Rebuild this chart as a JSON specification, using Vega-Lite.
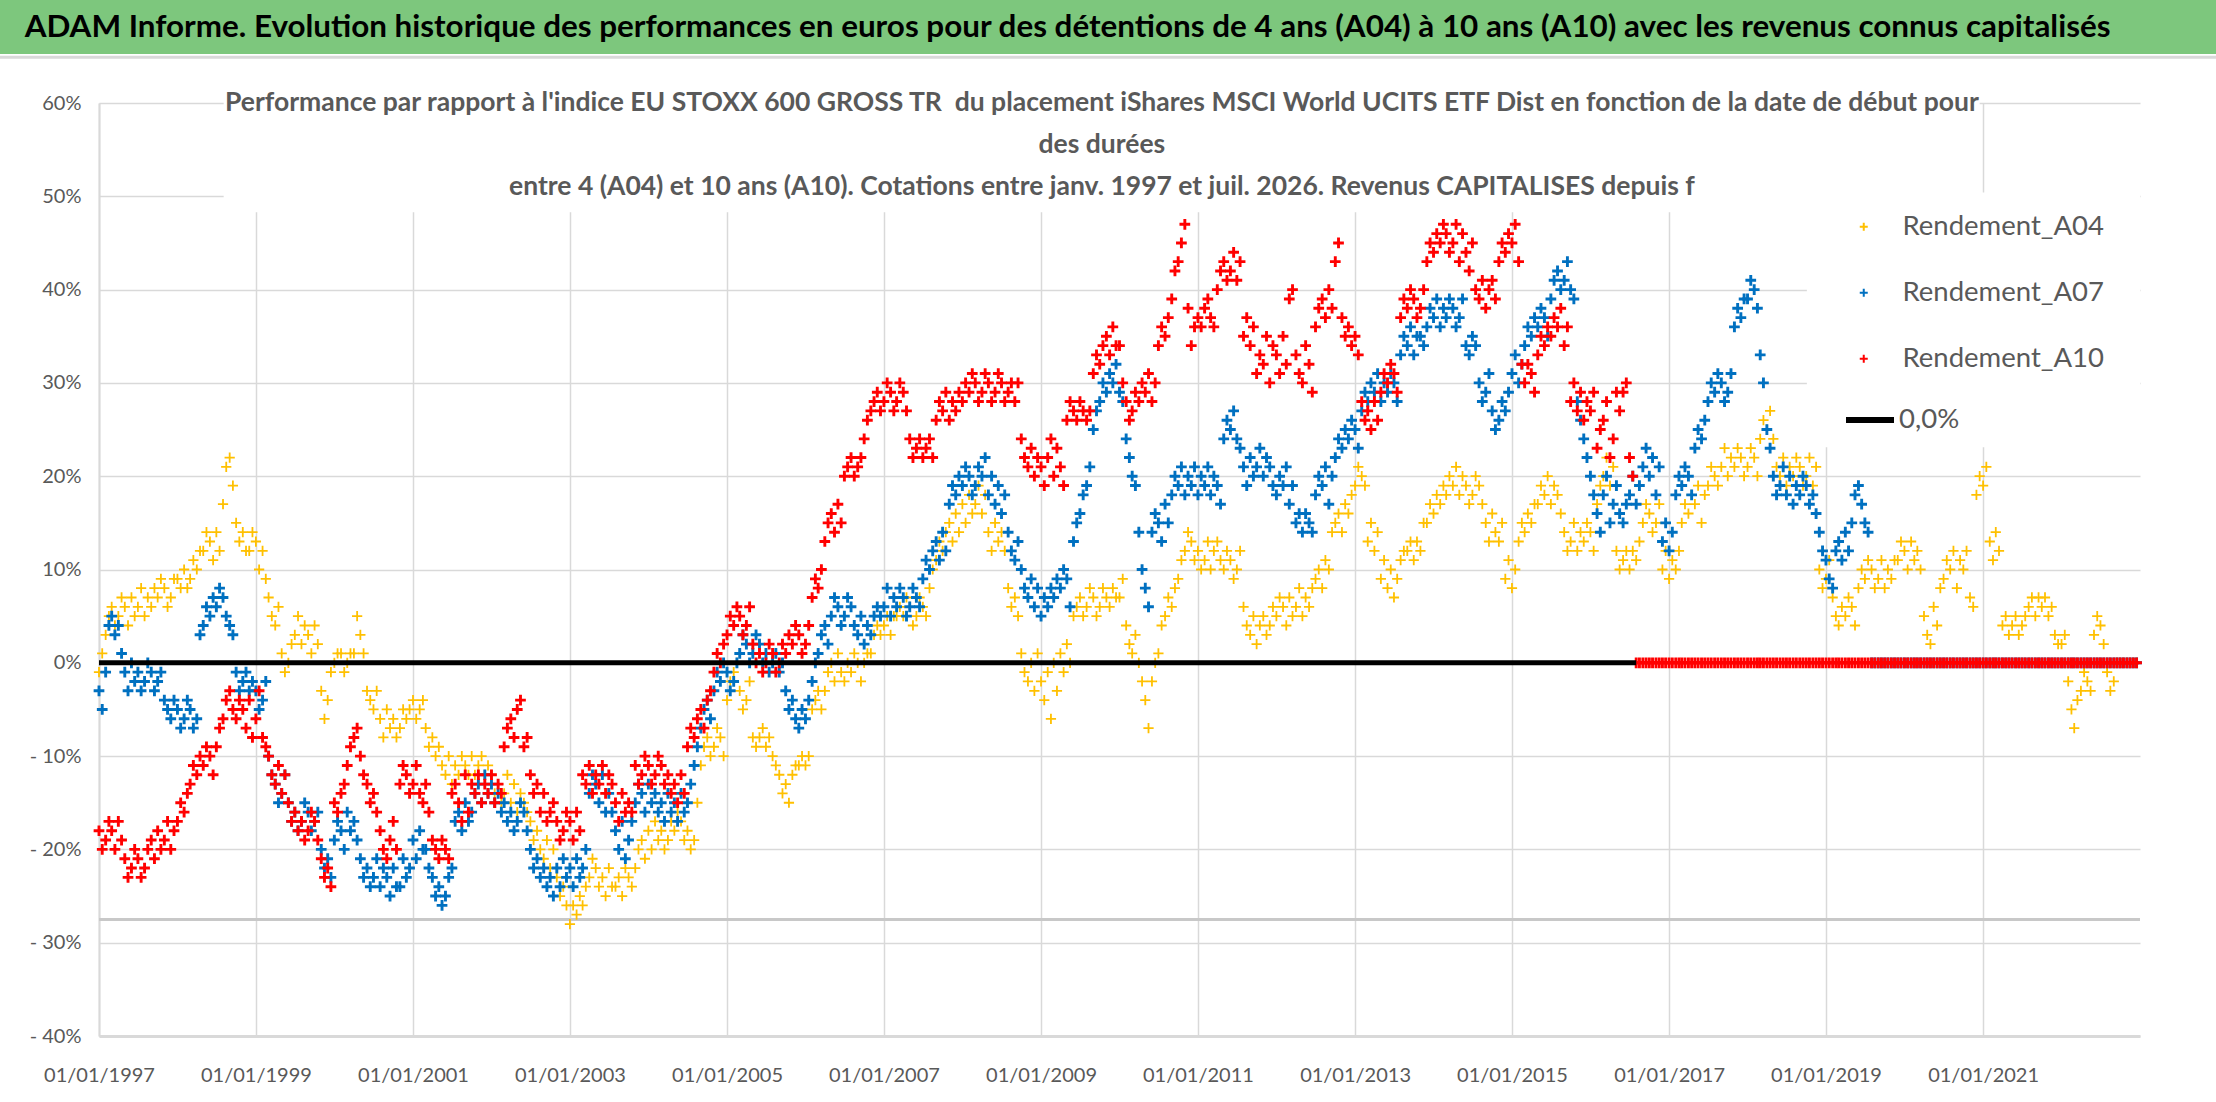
{
  "$schema": "https://vega.github.io/schema/vega-lite/v6.json",
  "width": 2041,
  "height": 933,
  "autosize": {"type": "none"},
  "padding": {"left": 99, "top": 103, "right": 76, "bottom": 66},
  "background": "white",
  "config": {"view": {"stroke": null}, "font": "Lato"},
  "data": {
    "values": [
      {"d":"1997-01-01","A04":-1,"A07":-3,"A10":-18},
      {"d":"1997-01-16","A04":1,"A07":-5,"A10":-20},
      {"d":"1997-02-01","A04":3,"A07":-1,"A10":-19},
      {"d":"1997-02-16","A04":5,"A07":4,"A10":-17},
      {"d":"1997-03-01","A04":6,"A07":5,"A10":-18},
      {"d":"1997-03-16","A04":4,"A07":3,"A10":-20},
      {"d":"1997-04-01","A04":5,"A07":4,"A10":-17},
      {"d":"1997-04-16","A04":7,"A07":1,"A10":-19},
      {"d":"1997-05-01","A04":6,"A07":-1,"A10":-21},
      {"d":"1997-05-16","A04":4,"A07":-3,"A10":-23},
      {"d":"1997-06-01","A04":7,"A07":0,"A10":-22},
      {"d":"1997-06-16","A04":5,"A07":-2,"A10":-20},
      {"d":"1997-07-01","A04":6,"A07":-1,"A10":-21},
      {"d":"1997-07-16","A04":8,"A07":-3,"A10":-23},
      {"d":"1997-08-01","A04":5,"A07":-2,"A10":-22},
      {"d":"1997-08-16","A04":7,"A07":0,"A10":-20},
      {"d":"1997-09-01","A04":6,"A07":-1,"A10":-19},
      {"d":"1997-09-16","A04":8,"A07":-3,"A10":-21},
      {"d":"1997-10-01","A04":7,"A07":-2,"A10":-18},
      {"d":"1997-10-16","A04":9,"A07":-1,"A10":-20},
      {"d":"1997-11-01","A04":8,"A07":-4,"A10":-19},
      {"d":"1997-11-16","A04":6,"A07":-5,"A10":-17},
      {"d":"1997-12-01","A04":7,"A07":-6,"A10":-20},
      {"d":"1997-12-16","A04":9,"A07":-4,"A10":-18},
      {"d":"1998-01-01","A04":9,"A07":-5,"A10":-17},
      {"d":"1998-01-16","A04":8,"A07":-7,"A10":-15},
      {"d":"1998-02-01","A04":10,"A07":-6,"A10":-16},
      {"d":"1998-02-16","A04":8,"A07":-4,"A10":-14},
      {"d":"1998-03-01","A04":9,"A07":-5,"A10":-13},
      {"d":"1998-03-16","A04":11,"A07":-7,"A10":-11},
      {"d":"1998-04-01","A04":10,"A07":-6,"A10":-12},
      {"d":"1998-04-16","A04":12,"A07":3,"A10":-10},
      {"d":"1998-05-01","A04":12,"A07":4,"A10":-11},
      {"d":"1998-05-16","A04":14,"A07":6,"A10":-9},
      {"d":"1998-06-01","A04":13,"A07":5,"A10":-10},
      {"d":"1998-06-16","A04":11,"A07":7,"A10":-12},
      {"d":"1998-07-01","A04":14,"A07":6,"A10":-9},
      {"d":"1998-07-16","A04":12,"A07":8,"A10":-7},
      {"d":"1998-08-01","A04":17,"A07":7,"A10":-6},
      {"d":"1998-08-16","A04":21,"A07":5,"A10":-4},
      {"d":"1998-09-01","A04":22,"A07":4,"A10":-3},
      {"d":"1998-09-16","A04":19,"A07":3,"A10":-5},
      {"d":"1998-10-01","A04":15,"A07":-1,"A10":-6},
      {"d":"1998-10-16","A04":13,"A07":-3,"A10":-4},
      {"d":"1998-11-01","A04":14,"A07":-2,"A10":-5},
      {"d":"1998-11-16","A04":12,"A07":-1,"A10":-7},
      {"d":"1998-12-01","A04":12,"A07":-3,"A10":-4},
      {"d":"1998-12-16","A04":14,"A07":-2,"A10":-8},
      {"d":"1999-01-01","A04":13,"A07":-3,"A10":-6},
      {"d":"1999-01-16","A04":10,"A07":-5,"A10":-3},
      {"d":"1999-02-01","A04":12,"A07":-4,"A10":-8},
      {"d":"1999-02-16","A04":9,"A07":-2,"A10":-9},
      {"d":"1999-03-01","A04":7,"A07":-10,"A10":-10},
      {"d":"1999-03-16","A04":5,"A07":-12,"A10":-12},
      {"d":"1999-04-01","A04":4,"A07":-13,"A10":-13},
      {"d":"1999-04-16","A04":6,"A07":-15,"A10":-11},
      {"d":"1999-05-01","A04":1,"A07":-14,"A10":-14},
      {"d":"1999-05-16","A04":-1,"A07":-12,"A10":-12},
      {"d":"1999-06-01","A04":0,"A07":-15,"A10":-15},
      {"d":"1999-06-16","A04":2,"A07":-17,"A10":-17},
      {"d":"1999-07-01","A04":3,"A07":-16,"A10":-16},
      {"d":"1999-07-16","A04":5,"A07":-18,"A10":-18},
      {"d":"1999-08-01","A04":2,"A07":-17,"A10":-17},
      {"d":"1999-08-16","A04":4,"A07":-15,"A10":-19},
      {"d":"1999-09-01","A04":3,"A07":-16,"A10":-18},
      {"d":"1999-09-16","A04":1,"A07":-18,"A10":-16},
      {"d":"1999-10-01","A04":4,"A07":-17,"A10":-17},
      {"d":"1999-10-16","A04":2,"A07":-16,"A10":-19},
      {"d":"1999-11-01","A04":-3,"A07":-20,"A10":-21},
      {"d":"1999-11-16","A04":-6,"A07":-22,"A10":-23},
      {"d":"1999-12-01","A04":-4,"A07":-21,"A10":-22},
      {"d":"1999-12-16","A04":-1,"A07":-23,"A10":-24},
      {"d":"2000-01-01","A04":0,"A07":-19,"A10":-15},
      {"d":"2000-01-16","A04":1,"A07":-17,"A10":-16},
      {"d":"2000-02-01","A04":1,"A07":-18,"A10":-14},
      {"d":"2000-02-16","A04":-1,"A07":-20,"A10":-13},
      {"d":"2000-03-01","A04":0,"A07":-16,"A10":-11},
      {"d":"2000-03-16","A04":1,"A07":-18,"A10":-9},
      {"d":"2000-04-01","A04":1,"A07":-17,"A10":-8},
      {"d":"2000-04-16","A04":5,"A07":-19,"A10":-7},
      {"d":"2000-05-01","A04":3,"A07":-21,"A10":-10},
      {"d":"2000-05-16","A04":1,"A07":-23,"A10":-12},
      {"d":"2000-06-01","A04":-3,"A07":-22,"A10":-13},
      {"d":"2000-06-16","A04":-4,"A07":-24,"A10":-15},
      {"d":"2000-07-01","A04":-5,"A07":-23,"A10":-14},
      {"d":"2000-07-16","A04":-3,"A07":-21,"A10":-16},
      {"d":"2000-08-01","A04":-6,"A07":-24,"A10":-18},
      {"d":"2000-08-16","A04":-8,"A07":-22,"A10":-20},
      {"d":"2000-09-01","A04":-5,"A07":-23,"A10":-21},
      {"d":"2000-09-16","A04":-7,"A07":-25,"A10":-19},
      {"d":"2000-10-01","A04":-6,"A07":-22,"A10":-17},
      {"d":"2000-10-16","A04":-8,"A07":-24,"A10":-20},
      {"d":"2000-11-01","A04":-7,"A07":-24,"A10":-13},
      {"d":"2000-11-16","A04":-5,"A07":-21,"A10":-11},
      {"d":"2000-12-01","A04":-6,"A07":-23,"A10":-12},
      {"d":"2000-12-16","A04":-5,"A07":-22,"A10":-14},
      {"d":"2001-01-01","A04":-4,"A07":-19,"A10":-13},
      {"d":"2001-01-16","A04":-6,"A07":-21,"A10":-11},
      {"d":"2001-02-01","A04":-5,"A07":-18,"A10":-14},
      {"d":"2001-02-16","A04":-4,"A07":-20,"A10":-15},
      {"d":"2001-03-01","A04":-7,"A07":-20,"A10":-13},
      {"d":"2001-03-16","A04":-9,"A07":-22,"A10":-16},
      {"d":"2001-04-01","A04":-8,"A07":-23,"A10":-19},
      {"d":"2001-04-16","A04":-10,"A07":-25,"A10":-20},
      {"d":"2001-05-01","A04":-9,"A07":-24,"A10":-21},
      {"d":"2001-05-16","A04":-11,"A07":-26,"A10":-19},
      {"d":"2001-06-01","A04":-12,"A07":-25,"A10":-20},
      {"d":"2001-06-16","A04":-10,"A07":-23,"A10":-21},
      {"d":"2001-07-01","A04":-13,"A07":-22,"A10":-14},
      {"d":"2001-07-16","A04":-11,"A07":-17,"A10":-13},
      {"d":"2001-08-01","A04":-12,"A07":-16,"A10":-15},
      {"d":"2001-08-16","A04":-10,"A07":-18,"A10":-17},
      {"d":"2001-09-01","A04":-11,"A07":-15,"A10":-12},
      {"d":"2001-09-16","A04":-12,"A07":-17,"A10":-16},
      {"d":"2001-10-01","A04":-10,"A07":-16,"A10":-13},
      {"d":"2001-10-16","A04":-12,"A07":-14,"A10":-14},
      {"d":"2001-11-01","A04":-11,"A07":-13,"A10":-12},
      {"d":"2001-11-16","A04":-10,"A07":-15,"A10":-15},
      {"d":"2001-12-01","A04":-12,"A07":-12,"A10":-13},
      {"d":"2001-12-16","A04":-11,"A07":-14,"A10":-14},
      {"d":"2002-01-01","A04":-12,"A07":-13,"A10":-12},
      {"d":"2002-01-16","A04":-14,"A07":-15,"A10":-15},
      {"d":"2002-02-01","A04":-13,"A07":-14,"A10":-13},
      {"d":"2002-02-16","A04":-15,"A07":-16,"A10":-14},
      {"d":"2002-03-01","A04":-14,"A07":-15,"A10":-9},
      {"d":"2002-03-16","A04":-12,"A07":-17,"A10":-7},
      {"d":"2002-04-01","A04":-15,"A07":-16,"A10":-6},
      {"d":"2002-04-16","A04":-13,"A07":-18,"A10":-8},
      {"d":"2002-05-01","A04":-16,"A07":-17,"A10":-5},
      {"d":"2002-05-16","A04":-14,"A07":-15,"A10":-4},
      {"d":"2002-06-01","A04":-15,"A07":-16,"A10":-9},
      {"d":"2002-06-16","A04":-16,"A07":-18,"A10":-8},
      {"d":"2002-07-01","A04":-17,"A07":-20,"A10":-12},
      {"d":"2002-07-16","A04":-19,"A07":-22,"A10":-14},
      {"d":"2002-08-01","A04":-18,"A07":-21,"A10":-13},
      {"d":"2002-08-16","A04":-20,"A07":-23,"A10":-16},
      {"d":"2002-09-01","A04":-21,"A07":-22,"A10":-14},
      {"d":"2002-09-16","A04":-19,"A07":-24,"A10":-17},
      {"d":"2002-10-01","A04":-22,"A07":-23,"A10":-16},
      {"d":"2002-10-16","A04":-20,"A07":-25,"A10":-15},
      {"d":"2002-11-01","A04":-23,"A07":-22,"A10":-17},
      {"d":"2002-11-16","A04":-25,"A07":-24,"A10":-19},
      {"d":"2002-12-01","A04":-24,"A07":-21,"A10":-18},
      {"d":"2002-12-16","A04":-26,"A07":-23,"A10":-16},
      {"d":"2003-01-01","A04":-28,"A07":-22,"A10":-17},
      {"d":"2003-01-16","A04":-26,"A07":-24,"A10":-19},
      {"d":"2003-02-01","A04":-27,"A07":-21,"A10":-16},
      {"d":"2003-02-16","A04":-25,"A07":-23,"A10":-18},
      {"d":"2003-03-01","A04":-26,"A07":-22,"A10":-12},
      {"d":"2003-03-16","A04":-24,"A07":-20,"A10":-13},
      {"d":"2003-04-01","A04":-23,"A07":-14,"A10":-11},
      {"d":"2003-04-16","A04":-21,"A07":-12,"A10":-14},
      {"d":"2003-05-01","A04":-22,"A07":-13,"A10":-12},
      {"d":"2003-05-16","A04":-24,"A07":-15,"A10":-13},
      {"d":"2003-06-01","A04":-23,"A07":-12,"A10":-11},
      {"d":"2003-06-16","A04":-25,"A07":-16,"A10":-14},
      {"d":"2003-07-01","A04":-22,"A07":-14,"A10":-12},
      {"d":"2003-07-16","A04":-24,"A07":-16,"A10":-13},
      {"d":"2003-08-01","A04":-24,"A07":-18,"A10":-15},
      {"d":"2003-08-16","A04":-23,"A07":-20,"A10":-17},
      {"d":"2003-09-01","A04":-25,"A07":-17,"A10":-14},
      {"d":"2003-09-16","A04":-22,"A07":-21,"A10":-16},
      {"d":"2003-10-01","A04":-23,"A07":-19,"A10":-15},
      {"d":"2003-10-16","A04":-24,"A07":-17,"A10":-16},
      {"d":"2003-11-01","A04":-22,"A07":-15,"A10":-11},
      {"d":"2003-11-16","A04":-20,"A07":-13,"A10":-13},
      {"d":"2003-12-01","A04":-19,"A07":-14,"A10":-12},
      {"d":"2003-12-16","A04":-21,"A07":-16,"A10":-10},
      {"d":"2004-01-01","A04":-18,"A07":-13,"A10":-11},
      {"d":"2004-01-16","A04":-20,"A07":-15,"A10":-13},
      {"d":"2004-02-01","A04":-17,"A07":-14,"A10":-12},
      {"d":"2004-02-16","A04":-19,"A07":-16,"A10":-10},
      {"d":"2004-03-01","A04":-18,"A07":-15,"A10":-11},
      {"d":"2004-03-16","A04":-20,"A07":-17,"A10":-13},
      {"d":"2004-04-01","A04":-19,"A07":-14,"A10":-12},
      {"d":"2004-04-16","A04":-17,"A07":-16,"A10":-14},
      {"d":"2004-05-01","A04":-18,"A07":-15,"A10":-13},
      {"d":"2004-05-16","A04":-16,"A07":-17,"A10":-15},
      {"d":"2004-06-01","A04":-17,"A07":-14,"A10":-12},
      {"d":"2004-06-16","A04":-19,"A07":-16,"A10":-14},
      {"d":"2004-07-01","A04":-18,"A07":-15,"A10":-9},
      {"d":"2004-07-16","A04":-20,"A07":-13,"A10":-7},
      {"d":"2004-08-01","A04":-19,"A07":-11,"A10":-8},
      {"d":"2004-08-16","A04":-15,"A07":-9,"A10":-6},
      {"d":"2004-09-01","A04":-11,"A07":-7,"A10":-5},
      {"d":"2004-09-16","A04":-9,"A07":-5,"A10":-7},
      {"d":"2004-10-01","A04":-8,"A07":-4,"A10":-4},
      {"d":"2004-10-16","A04":-10,"A07":-6,"A10":-3},
      {"d":"2004-11-01","A04":-9,"A07":-3,"A10":-1},
      {"d":"2004-11-16","A04":-7,"A07":-1,"A10":1},
      {"d":"2004-12-01","A04":-8,"A07":-2,"A10":0},
      {"d":"2004-12-16","A04":-10,"A07":0,"A10":2},
      {"d":"2005-01-01","A04":-4,"A07":-1,"A10":3},
      {"d":"2005-01-16","A04":-2,"A07":-3,"A10":5},
      {"d":"2005-02-01","A04":-1,"A07":-2,"A10":4},
      {"d":"2005-02-16","A04":0,"A07":0,"A10":6},
      {"d":"2005-03-01","A04":-3,"A07":1,"A10":5},
      {"d":"2005-03-16","A04":-5,"A07":3,"A10":3},
      {"d":"2005-04-01","A04":-4,"A07":2,"A10":4},
      {"d":"2005-04-16","A04":-2,"A07":0,"A10":6},
      {"d":"2005-05-01","A04":-8,"A07":1,"A10":2},
      {"d":"2005-05-16","A04":-9,"A07":3,"A10":0},
      {"d":"2005-06-01","A04":-8,"A07":2,"A10":1},
      {"d":"2005-06-16","A04":-7,"A07":0,"A10":-1},
      {"d":"2005-07-01","A04":-9,"A07":1,"A10":0},
      {"d":"2005-07-16","A04":-8,"A07":-1,"A10":2},
      {"d":"2005-08-01","A04":-10,"A07":0,"A10":1},
      {"d":"2005-08-16","A04":-11,"A07":1,"A10":-1},
      {"d":"2005-09-01","A04":-12,"A07":-1,"A10":0},
      {"d":"2005-09-16","A04":-14,"A07":0,"A10":2},
      {"d":"2005-10-01","A04":-13,"A07":-3,"A10":1},
      {"d":"2005-10-16","A04":-15,"A07":-5,"A10":3},
      {"d":"2005-11-01","A04":-12,"A07":-4,"A10":2},
      {"d":"2005-11-16","A04":-11,"A07":-6,"A10":4},
      {"d":"2005-12-01","A04":-11,"A07":-7,"A10":3},
      {"d":"2005-12-16","A04":-10,"A07":-5,"A10":1},
      {"d":"2006-01-01","A04":-11,"A07":-6,"A10":2},
      {"d":"2006-01-16","A04":-10,"A07":-4,"A10":4},
      {"d":"2006-02-01","A04":-5,"A07":-2,"A10":7},
      {"d":"2006-02-16","A04":-4,"A07":0,"A10":9},
      {"d":"2006-03-01","A04":-3,"A07":1,"A10":8},
      {"d":"2006-03-16","A04":-5,"A07":3,"A10":10},
      {"d":"2006-04-01","A04":-3,"A07":4,"A10":13},
      {"d":"2006-04-16","A04":-1,"A07":2,"A10":15},
      {"d":"2006-05-01","A04":0,"A07":5,"A10":16},
      {"d":"2006-05-16","A04":-2,"A07":7,"A10":14},
      {"d":"2006-06-01","A04":1,"A07":6,"A10":17},
      {"d":"2006-06-16","A04":-1,"A07":4,"A10":15},
      {"d":"2006-07-01","A04":-2,"A07":5,"A10":20},
      {"d":"2006-07-16","A04":0,"A07":7,"A10":21},
      {"d":"2006-08-01","A04":-1,"A07":6,"A10":22},
      {"d":"2006-08-16","A04":1,"A07":4,"A10":20},
      {"d":"2006-09-01","A04":0,"A07":3,"A10":21},
      {"d":"2006-09-16","A04":-2,"A07":5,"A10":22},
      {"d":"2006-10-01","A04":0,"A07":2,"A10":24},
      {"d":"2006-10-16","A04":1,"A07":4,"A10":26},
      {"d":"2006-11-01","A04":1,"A07":3,"A10":27},
      {"d":"2006-11-16","A04":3,"A07":5,"A10":28},
      {"d":"2006-12-01","A04":4,"A07":6,"A10":29},
      {"d":"2006-12-16","A04":3,"A07":5,"A10":27},
      {"d":"2007-01-01","A04":4,"A07":6,"A10":28},
      {"d":"2007-01-16","A04":5,"A07":8,"A10":30},
      {"d":"2007-02-01","A04":3,"A07":5,"A10":29},
      {"d":"2007-02-16","A04":5,"A07":7,"A10":27},
      {"d":"2007-03-01","A04":5,"A07":6,"A10":28},
      {"d":"2007-03-16","A04":6,"A07":8,"A10":30},
      {"d":"2007-04-01","A04":5,"A07":7,"A10":29},
      {"d":"2007-04-16","A04":7,"A07":5,"A10":27},
      {"d":"2007-05-01","A04":6,"A07":6,"A10":24},
      {"d":"2007-05-16","A04":4,"A07":8,"A10":22},
      {"d":"2007-06-01","A04":5,"A07":7,"A10":23},
      {"d":"2007-06-16","A04":7,"A07":6,"A10":24},
      {"d":"2007-07-01","A04":6,"A07":9,"A10":22},
      {"d":"2007-07-16","A04":5,"A07":11,"A10":23},
      {"d":"2007-08-01","A04":8,"A07":10,"A10":24},
      {"d":"2007-08-16","A04":10,"A07":12,"A10":22},
      {"d":"2007-09-01","A04":11,"A07":13,"A10":26},
      {"d":"2007-09-16","A04":13,"A07":11,"A10":28},
      {"d":"2007-10-01","A04":12,"A07":14,"A10":27},
      {"d":"2007-10-16","A04":14,"A07":12,"A10":29},
      {"d":"2007-11-01","A04":15,"A07":17,"A10":26},
      {"d":"2007-11-16","A04":13,"A07":19,"A10":28},
      {"d":"2007-12-01","A04":16,"A07":18,"A10":27},
      {"d":"2007-12-16","A04":14,"A07":20,"A10":29},
      {"d":"2008-01-01","A04":17,"A07":19,"A10":28},
      {"d":"2008-01-16","A04":15,"A07":21,"A10":30},
      {"d":"2008-02-01","A04":18,"A07":20,"A10":29},
      {"d":"2008-02-16","A04":16,"A07":18,"A10":31},
      {"d":"2008-03-01","A04":17,"A07":19,"A10":30},
      {"d":"2008-03-16","A04":19,"A07":21,"A10":28},
      {"d":"2008-04-01","A04":16,"A07":20,"A10":29},
      {"d":"2008-04-16","A04":18,"A07":22,"A10":31},
      {"d":"2008-05-01","A04":14,"A07":18,"A10":30},
      {"d":"2008-05-16","A04":12,"A07":20,"A10":28},
      {"d":"2008-06-01","A04":15,"A07":17,"A10":29},
      {"d":"2008-06-16","A04":13,"A07":19,"A10":31},
      {"d":"2008-07-01","A04":14,"A07":16,"A10":30},
      {"d":"2008-07-16","A04":12,"A07":18,"A10":28},
      {"d":"2008-08-01","A04":8,"A07":14,"A10":29},
      {"d":"2008-08-16","A04":6,"A07":12,"A10":30},
      {"d":"2008-09-01","A04":7,"A07":11,"A10":28},
      {"d":"2008-09-16","A04":5,"A07":13,"A10":30},
      {"d":"2008-10-01","A04":1,"A07":10,"A10":24},
      {"d":"2008-10-16","A04":-1,"A07":8,"A10":22},
      {"d":"2008-11-01","A04":-2,"A07":7,"A10":21},
      {"d":"2008-11-16","A04":0,"A07":9,"A10":23},
      {"d":"2008-12-01","A04":-3,"A07":6,"A10":20},
      {"d":"2008-12-16","A04":1,"A07":8,"A10":22},
      {"d":"2009-01-01","A04":-2,"A07":5,"A10":21},
      {"d":"2009-01-16","A04":-4,"A07":7,"A10":19},
      {"d":"2009-02-01","A04":-1,"A07":6,"A10":22},
      {"d":"2009-02-16","A04":-6,"A07":8,"A10":24},
      {"d":"2009-03-01","A04":0,"A07":7,"A10":20},
      {"d":"2009-03-16","A04":-3,"A07":9,"A10":23},
      {"d":"2009-04-01","A04":1,"A07":8,"A10":21},
      {"d":"2009-04-16","A04":-1,"A07":10,"A10":19},
      {"d":"2009-05-01","A04":2,"A07":9,"A10":26},
      {"d":"2009-05-16","A04":0,"A07":6,"A10":28},
      {"d":"2009-06-01","A04":5,"A07":13,"A10":27},
      {"d":"2009-06-16","A04":6,"A07":15,"A10":26},
      {"d":"2009-07-01","A04":7,"A07":16,"A10":28},
      {"d":"2009-07-16","A04":5,"A07":18,"A10":27},
      {"d":"2009-08-01","A04":6,"A07":19,"A10":26},
      {"d":"2009-08-16","A04":8,"A07":21,"A10":27},
      {"d":"2009-09-01","A04":7,"A07":25,"A10":31},
      {"d":"2009-09-16","A04":5,"A07":27,"A10":33},
      {"d":"2009-10-01","A04":6,"A07":28,"A10":32},
      {"d":"2009-10-16","A04":8,"A07":30,"A10":34},
      {"d":"2009-11-01","A04":7,"A07":29,"A10":35},
      {"d":"2009-11-16","A04":6,"A07":31,"A10":33},
      {"d":"2009-12-01","A04":8,"A07":30,"A10":36},
      {"d":"2009-12-16","A04":7,"A07":32,"A10":34},
      {"d":"2010-01-01","A04":7,"A07":29,"A10":34},
      {"d":"2010-01-16","A04":9,"A07":28,"A10":30},
      {"d":"2010-02-01","A04":4,"A07":24,"A10":28},
      {"d":"2010-02-16","A04":2,"A07":22,"A10":26},
      {"d":"2010-03-01","A04":1,"A07":20,"A10":27},
      {"d":"2010-03-16","A04":3,"A07":19,"A10":29},
      {"d":"2010-04-01","A04":0,"A07":14,"A10":28},
      {"d":"2010-04-16","A04":-2,"A07":10,"A10":30},
      {"d":"2010-05-01","A04":-4,"A07":8,"A10":29},
      {"d":"2010-05-16","A04":-7,"A07":6,"A10":31},
      {"d":"2010-06-01","A04":-2,"A07":14,"A10":28},
      {"d":"2010-06-16","A04":0,"A07":16,"A10":30},
      {"d":"2010-07-01","A04":1,"A07":15,"A10":34},
      {"d":"2010-07-16","A04":4,"A07":13,"A10":36},
      {"d":"2010-08-01","A04":5,"A07":17,"A10":35},
      {"d":"2010-08-16","A04":7,"A07":15,"A10":37},
      {"d":"2010-09-01","A04":6,"A07":18,"A10":39},
      {"d":"2010-09-16","A04":8,"A07":20,"A10":42},
      {"d":"2010-10-01","A04":9,"A07":19,"A10":43},
      {"d":"2010-10-16","A04":11,"A07":21,"A10":45},
      {"d":"2010-11-01","A04":12,"A07":18,"A10":47},
      {"d":"2010-11-16","A04":14,"A07":20,"A10":38},
      {"d":"2010-12-01","A04":13,"A07":19,"A10":34},
      {"d":"2010-12-16","A04":11,"A07":21,"A10":36},
      {"d":"2011-01-01","A04":12,"A07":18,"A10":37},
      {"d":"2011-01-16","A04":10,"A07":20,"A10":36},
      {"d":"2011-02-01","A04":11,"A07":19,"A10":38},
      {"d":"2011-02-16","A04":13,"A07":21,"A10":39},
      {"d":"2011-03-01","A04":10,"A07":18,"A10":37},
      {"d":"2011-03-16","A04":12,"A07":20,"A10":36},
      {"d":"2011-04-01","A04":13,"A07":19,"A10":40},
      {"d":"2011-04-16","A04":11,"A07":17,"A10":42},
      {"d":"2011-05-01","A04":10,"A07":24,"A10":43},
      {"d":"2011-05-16","A04":12,"A07":26,"A10":41},
      {"d":"2011-06-01","A04":11,"A07":25,"A10":42},
      {"d":"2011-06-16","A04":9,"A07":27,"A10":44},
      {"d":"2011-07-01","A04":10,"A07":24,"A10":41},
      {"d":"2011-07-16","A04":12,"A07":23,"A10":43},
      {"d":"2011-08-01","A04":6,"A07":21,"A10":35},
      {"d":"2011-08-16","A04":4,"A07":19,"A10":37},
      {"d":"2011-09-01","A04":3,"A07":22,"A10":34},
      {"d":"2011-09-16","A04":5,"A07":20,"A10":36},
      {"d":"2011-10-01","A04":2,"A07":21,"A10":31},
      {"d":"2011-10-16","A04":4,"A07":23,"A10":33},
      {"d":"2011-11-01","A04":5,"A07":20,"A10":32},
      {"d":"2011-11-16","A04":3,"A07":22,"A10":35},
      {"d":"2011-12-01","A04":4,"A07":21,"A10":30},
      {"d":"2011-12-16","A04":6,"A07":19,"A10":34},
      {"d":"2012-01-01","A04":5,"A07":18,"A10":33},
      {"d":"2012-01-16","A04":7,"A07":20,"A10":31},
      {"d":"2012-02-01","A04":6,"A07":19,"A10":35},
      {"d":"2012-02-16","A04":4,"A07":21,"A10":32},
      {"d":"2012-03-01","A04":7,"A07":17,"A10":39},
      {"d":"2012-03-16","A04":5,"A07":19,"A10":40},
      {"d":"2012-04-01","A04":6,"A07":15,"A10":33},
      {"d":"2012-04-16","A04":8,"A07":16,"A10":31},
      {"d":"2012-05-01","A04":5,"A07":14,"A10":30},
      {"d":"2012-05-16","A04":7,"A07":16,"A10":34},
      {"d":"2012-06-01","A04":6,"A07":15,"A10":32},
      {"d":"2012-06-16","A04":8,"A07":14,"A10":29},
      {"d":"2012-07-01","A04":9,"A07":18,"A10":36},
      {"d":"2012-07-16","A04":10,"A07":20,"A10":38},
      {"d":"2012-08-01","A04":8,"A07":19,"A10":39},
      {"d":"2012-08-16","A04":11,"A07":21,"A10":37},
      {"d":"2012-09-01","A04":10,"A07":17,"A10":40},
      {"d":"2012-09-16","A04":14,"A07":20,"A10":38},
      {"d":"2012-10-01","A04":15,"A07":22,"A10":43},
      {"d":"2012-10-16","A04":16,"A07":24,"A10":45},
      {"d":"2012-11-01","A04":14,"A07":23,"A10":37},
      {"d":"2012-11-16","A04":17,"A07":25,"A10":35},
      {"d":"2012-12-01","A04":16,"A07":24,"A10":36},
      {"d":"2012-12-16","A04":18,"A07":26,"A10":34},
      {"d":"2013-01-01","A04":19,"A07":25,"A10":35},
      {"d":"2013-01-16","A04":21,"A07":23,"A10":33},
      {"d":"2013-02-01","A04":20,"A07":27,"A10":28},
      {"d":"2013-02-16","A04":19,"A07":29,"A10":26},
      {"d":"2013-03-01","A04":13,"A07":28,"A10":27},
      {"d":"2013-03-16","A04":15,"A07":30,"A10":25},
      {"d":"2013-04-01","A04":12,"A07":29,"A10":28},
      {"d":"2013-04-16","A04":14,"A07":31,"A10":26},
      {"d":"2013-05-01","A04":9,"A07":28,"A10":29},
      {"d":"2013-05-16","A04":11,"A07":30,"A10":31},
      {"d":"2013-06-01","A04":8,"A07":29,"A10":30},
      {"d":"2013-06-16","A04":10,"A07":31,"A10":32},
      {"d":"2013-07-01","A04":7,"A07":30,"A10":31},
      {"d":"2013-07-16","A04":9,"A07":28,"A10":29},
      {"d":"2013-08-01","A04":11,"A07":33,"A10":37},
      {"d":"2013-08-16","A04":12,"A07":35,"A10":39},
      {"d":"2013-09-01","A04":12,"A07":34,"A10":38},
      {"d":"2013-09-16","A04":13,"A07":36,"A10":40},
      {"d":"2013-10-01","A04":11,"A07":33,"A10":39},
      {"d":"2013-10-16","A04":13,"A07":35,"A10":37},
      {"d":"2013-11-01","A04":12,"A07":35,"A10":38},
      {"d":"2013-11-16","A04":15,"A07":34,"A10":40},
      {"d":"2013-12-01","A04":15,"A07":36,"A10":43},
      {"d":"2013-12-16","A04":17,"A07":38,"A10":45},
      {"d":"2014-01-01","A04":16,"A07":37,"A10":44},
      {"d":"2014-01-16","A04":18,"A07":39,"A10":46},
      {"d":"2014-02-01","A04":17,"A07":36,"A10":45},
      {"d":"2014-02-16","A04":19,"A07":38,"A10":47},
      {"d":"2014-03-01","A04":18,"A07":37,"A10":46},
      {"d":"2014-03-16","A04":20,"A07":39,"A10":44},
      {"d":"2014-04-01","A04":19,"A07":38,"A10":45},
      {"d":"2014-04-16","A04":21,"A07":36,"A10":47},
      {"d":"2014-05-01","A04":18,"A07":37,"A10":43},
      {"d":"2014-05-16","A04":20,"A07":39,"A10":46},
      {"d":"2014-06-01","A04":19,"A07":34,"A10":44},
      {"d":"2014-06-16","A04":17,"A07":33,"A10":42},
      {"d":"2014-07-01","A04":18,"A07":35,"A10":45},
      {"d":"2014-07-16","A04":20,"A07":34,"A10":40},
      {"d":"2014-08-01","A04":19,"A07":30,"A10":39},
      {"d":"2014-08-16","A04":17,"A07":28,"A10":41},
      {"d":"2014-09-01","A04":15,"A07":29,"A10":38},
      {"d":"2014-09-16","A04":13,"A07":31,"A10":40},
      {"d":"2014-10-01","A04":16,"A07":27,"A10":41},
      {"d":"2014-10-16","A04":14,"A07":25,"A10":39},
      {"d":"2014-11-01","A04":13,"A07":26,"A10":43},
      {"d":"2014-11-16","A04":15,"A07":28,"A10":45},
      {"d":"2014-12-01","A04":9,"A07":27,"A10":44},
      {"d":"2014-12-16","A04":11,"A07":29,"A10":46},
      {"d":"2015-01-01","A04":8,"A07":31,"A10":45},
      {"d":"2015-01-16","A04":10,"A07":33,"A10":47},
      {"d":"2015-02-01","A04":13,"A07":30,"A10":43},
      {"d":"2015-02-16","A04":15,"A07":32,"A10":32},
      {"d":"2015-03-01","A04":14,"A07":34,"A10":30},
      {"d":"2015-03-16","A04":16,"A07":36,"A10":32},
      {"d":"2015-04-01","A04":15,"A07":35,"A10":31},
      {"d":"2015-04-16","A04":17,"A07":37,"A10":29},
      {"d":"2015-05-01","A04":17,"A07":36,"A10":33},
      {"d":"2015-05-16","A04":19,"A07":38,"A10":35},
      {"d":"2015-06-01","A04":18,"A07":37,"A10":34},
      {"d":"2015-06-16","A04":20,"A07":35,"A10":36},
      {"d":"2015-07-01","A04":17,"A07":39,"A10":35},
      {"d":"2015-07-16","A04":19,"A07":41,"A10":37},
      {"d":"2015-08-01","A04":18,"A07":42,"A10":36},
      {"d":"2015-08-16","A04":16,"A07":40,"A10":38},
      {"d":"2015-09-01","A04":14,"A07":41,"A10":34},
      {"d":"2015-09-16","A04":12,"A07":43,"A10":36},
      {"d":"2015-10-01","A04":13,"A07":40,"A10":28},
      {"d":"2015-10-16","A04":15,"A07":39,"A10":30},
      {"d":"2015-11-01","A04":12,"A07":28,"A10":27},
      {"d":"2015-11-16","A04":14,"A07":26,"A10":29},
      {"d":"2015-12-01","A04":13,"A07":24,"A10":26},
      {"d":"2015-12-16","A04":15,"A07":22,"A10":28},
      {"d":"2016-01-01","A04":14,"A07":20,"A10":27},
      {"d":"2016-01-16","A04":12,"A07":18,"A10":29},
      {"d":"2016-02-01","A04":17,"A07":16,"A10":23},
      {"d":"2016-02-16","A04":19,"A07":14,"A10":25},
      {"d":"2016-03-01","A04":20,"A07":18,"A10":26},
      {"d":"2016-03-16","A04":22,"A07":20,"A10":28},
      {"d":"2016-04-01","A04":19,"A07":15,"A10":22},
      {"d":"2016-04-16","A04":21,"A07":17,"A10":24},
      {"d":"2016-05-01","A04":12,"A07":19,"A10":29},
      {"d":"2016-05-16","A04":10,"A07":16,"A10":27},
      {"d":"2016-06-01","A04":11,"A07":15,"A10":29},
      {"d":"2016-06-16","A04":12,"A07":17,"A10":30},
      {"d":"2016-07-01","A04":10,"A07":18,"A10":22},
      {"d":"2016-07-16","A04":12,"A07":20,"A10":20},
      {"d":"2016-08-01","A04":11,"A07":17,"A10":0},
      {"d":"2016-08-16","A04":13,"A07":19,"A10":0},
      {"d":"2016-09-01","A04":15,"A07":21,"A10":0},
      {"d":"2016-09-16","A04":17,"A07":23,"A10":0},
      {"d":"2016-10-01","A04":16,"A07":20,"A10":0},
      {"d":"2016-10-16","A04":14,"A07":22,"A10":0},
      {"d":"2016-11-01","A04":15,"A07":18,"A10":0},
      {"d":"2016-11-16","A04":17,"A07":21,"A10":0},
      {"d":"2016-12-01","A04":10,"A07":13,"A10":0},
      {"d":"2016-12-16","A04":12,"A07":15,"A10":0},
      {"d":"2017-01-01","A04":9,"A07":12,"A10":0},
      {"d":"2017-01-16","A04":11,"A07":14,"A10":0},
      {"d":"2017-02-01","A04":10,"A07":18,"A10":0},
      {"d":"2017-02-16","A04":12,"A07":20,"A10":0},
      {"d":"2017-03-01","A04":15,"A07":19,"A10":0},
      {"d":"2017-03-16","A04":17,"A07":21,"A10":0},
      {"d":"2017-04-01","A04":16,"A07":20,"A10":0},
      {"d":"2017-04-16","A04":18,"A07":18,"A10":0},
      {"d":"2017-05-01","A04":17,"A07":23,"A10":0},
      {"d":"2017-05-16","A04":19,"A07":25,"A10":0},
      {"d":"2017-06-01","A04":15,"A07":24,"A10":0},
      {"d":"2017-06-16","A04":18,"A07":26,"A10":0},
      {"d":"2017-07-01","A04":19,"A07":28,"A10":0},
      {"d":"2017-07-16","A04":21,"A07":30,"A10":0},
      {"d":"2017-08-01","A04":20,"A07":29,"A10":0},
      {"d":"2017-08-16","A04":19,"A07":31,"A10":0},
      {"d":"2017-09-01","A04":21,"A07":30,"A10":0},
      {"d":"2017-09-16","A04":23,"A07":28,"A10":0},
      {"d":"2017-10-01","A04":20,"A07":29,"A10":0},
      {"d":"2017-10-16","A04":22,"A07":31,"A10":0},
      {"d":"2017-11-01","A04":21,"A07":36,"A10":0},
      {"d":"2017-11-16","A04":23,"A07":38,"A10":0},
      {"d":"2017-12-01","A04":22,"A07":37,"A10":0},
      {"d":"2017-12-16","A04":20,"A07":39,"A10":0},
      {"d":"2018-01-01","A04":21,"A07":39,"A10":0},
      {"d":"2018-01-16","A04":23,"A07":41,"A10":0},
      {"d":"2018-02-01","A04":22,"A07":40,"A10":0},
      {"d":"2018-02-16","A04":20,"A07":38,"A10":0},
      {"d":"2018-03-01","A04":24,"A07":33,"A10":0},
      {"d":"2018-03-16","A04":26,"A07":30,"A10":0},
      {"d":"2018-04-01","A04":25,"A07":25,"A10":0},
      {"d":"2018-04-16","A04":27,"A07":23,"A10":0},
      {"d":"2018-05-01","A04":24,"A07":20,"A10":0},
      {"d":"2018-05-16","A04":21,"A07":18,"A10":0},
      {"d":"2018-06-01","A04":20,"A07":19,"A10":0},
      {"d":"2018-06-16","A04":22,"A07":21,"A10":0},
      {"d":"2018-07-01","A04":19,"A07":18,"A10":0},
      {"d":"2018-07-16","A04":21,"A07":20,"A10":0},
      {"d":"2018-08-01","A04":20,"A07":17,"A10":0},
      {"d":"2018-08-16","A04":22,"A07":19,"A10":0},
      {"d":"2018-09-01","A04":21,"A07":18,"A10":0},
      {"d":"2018-09-16","A04":19,"A07":20,"A10":0},
      {"d":"2018-10-01","A04":20,"A07":19,"A10":0},
      {"d":"2018-10-16","A04":22,"A07":17,"A10":0},
      {"d":"2018-11-01","A04":19,"A07":18,"A10":0},
      {"d":"2018-11-16","A04":21,"A07":16,"A10":0},
      {"d":"2018-12-01","A04":10,"A07":14,"A10":0},
      {"d":"2018-12-16","A04":8,"A07":12,"A10":0},
      {"d":"2019-01-01","A04":9,"A07":11,"A10":0},
      {"d":"2019-01-16","A04":11,"A07":9,"A10":0},
      {"d":"2019-02-01","A04":7,"A07":8,"A10":0},
      {"d":"2019-02-16","A04":5,"A07":12,"A10":0},
      {"d":"2019-03-01","A04":4,"A07":13,"A10":0},
      {"d":"2019-03-16","A04":6,"A07":11,"A10":0},
      {"d":"2019-04-01","A04":5,"A07":14,"A10":0},
      {"d":"2019-04-16","A04":7,"A07":12,"A10":0},
      {"d":"2019-05-01","A04":6,"A07":15,"A10":0},
      {"d":"2019-05-16","A04":4,"A07":18,"A10":0},
      {"d":"2019-06-01","A04":8,"A07":19,"A10":0},
      {"d":"2019-06-16","A04":10,"A07":17,"A10":0},
      {"d":"2019-07-01","A04":9,"A07":15,"A10":0},
      {"d":"2019-07-16","A04":11,"A07":14,"A10":0},
      {"d":"2019-08-01","A04":10,"A07":0,"A10":0},
      {"d":"2019-08-16","A04":8,"A07":0,"A10":0},
      {"d":"2019-09-01","A04":9,"A07":0,"A10":0},
      {"d":"2019-09-16","A04":11,"A07":0,"A10":0},
      {"d":"2019-10-01","A04":8,"A07":0,"A10":0},
      {"d":"2019-10-16","A04":10,"A07":0,"A10":0},
      {"d":"2019-11-01","A04":9,"A07":0,"A10":0},
      {"d":"2019-11-16","A04":11,"A07":0,"A10":0},
      {"d":"2019-12-01","A04":11,"A07":0,"A10":0},
      {"d":"2019-12-16","A04":13,"A07":0,"A10":0},
      {"d":"2020-01-01","A04":12,"A07":0,"A10":0},
      {"d":"2020-01-16","A04":10,"A07":0,"A10":0},
      {"d":"2020-02-01","A04":13,"A07":0,"A10":0},
      {"d":"2020-02-16","A04":11,"A07":0,"A10":0},
      {"d":"2020-03-01","A04":12,"A07":0,"A10":0},
      {"d":"2020-03-16","A04":10,"A07":0,"A10":0},
      {"d":"2020-04-01","A04":5,"A07":0,"A10":0},
      {"d":"2020-04-16","A04":3,"A07":0,"A10":0},
      {"d":"2020-05-01","A04":2,"A07":0,"A10":0},
      {"d":"2020-05-16","A04":6,"A07":0,"A10":0},
      {"d":"2020-06-01","A04":4,"A07":0,"A10":0},
      {"d":"2020-06-16","A04":8,"A07":0,"A10":0},
      {"d":"2020-07-01","A04":9,"A07":0,"A10":0},
      {"d":"2020-07-16","A04":11,"A07":0,"A10":0},
      {"d":"2020-08-01","A04":10,"A07":0,"A10":0},
      {"d":"2020-08-16","A04":12,"A07":0,"A10":0},
      {"d":"2020-09-01","A04":8,"A07":0,"A10":0},
      {"d":"2020-09-16","A04":11,"A07":0,"A10":0},
      {"d":"2020-10-01","A04":10,"A07":0,"A10":0},
      {"d":"2020-10-16","A04":12,"A07":0,"A10":0},
      {"d":"2020-11-01","A04":7,"A07":0,"A10":0},
      {"d":"2020-11-16","A04":6,"A07":0,"A10":0},
      {"d":"2020-12-01","A04":18,"A07":0,"A10":0},
      {"d":"2020-12-16","A04":20,"A07":0,"A10":0},
      {"d":"2021-01-01","A04":19,"A07":0,"A10":0},
      {"d":"2021-01-16","A04":21,"A07":0,"A10":0},
      {"d":"2021-02-01","A04":13,"A07":0,"A10":0},
      {"d":"2021-02-16","A04":11,"A07":0,"A10":0},
      {"d":"2021-03-01","A04":14,"A07":0,"A10":0},
      {"d":"2021-03-16","A04":12,"A07":0,"A10":0},
      {"d":"2021-04-01","A04":4,"A07":0,"A10":0},
      {"d":"2021-04-16","A04":5,"A07":0,"A10":0},
      {"d":"2021-05-01","A04":3,"A07":0,"A10":0},
      {"d":"2021-05-16","A04":4,"A07":0,"A10":0},
      {"d":"2021-06-01","A04":5,"A07":0,"A10":0},
      {"d":"2021-06-16","A04":3,"A07":0,"A10":0},
      {"d":"2021-07-01","A04":4,"A07":0,"A10":0},
      {"d":"2021-07-16","A04":5,"A07":0,"A10":0},
      {"d":"2021-08-01","A04":6,"A07":0,"A10":0},
      {"d":"2021-08-16","A04":7,"A07":0,"A10":0},
      {"d":"2021-09-01","A04":5,"A07":0,"A10":0},
      {"d":"2021-09-16","A04":7,"A07":0,"A10":0},
      {"d":"2021-10-01","A04":6,"A07":0,"A10":0},
      {"d":"2021-10-16","A04":7,"A07":0,"A10":0},
      {"d":"2021-11-01","A04":5,"A07":0,"A10":0},
      {"d":"2021-11-16","A04":6,"A07":0,"A10":0},
      {"d":"2021-12-01","A04":3,"A07":0,"A10":0},
      {"d":"2021-12-16","A04":2,"A07":0,"A10":0},
      {"d":"2022-01-01","A04":2,"A07":0,"A10":0},
      {"d":"2022-01-16","A04":3,"A07":0,"A10":0},
      {"d":"2022-02-01","A04":-2,"A07":0,"A10":0},
      {"d":"2022-02-16","A04":-5,"A07":0,"A10":0},
      {"d":"2022-03-01","A04":-7,"A07":0,"A10":0},
      {"d":"2022-03-16","A04":-4,"A07":0,"A10":0},
      {"d":"2022-04-01","A04":-3,"A07":0,"A10":0},
      {"d":"2022-04-16","A04":-1,"A07":0,"A10":0},
      {"d":"2022-05-01","A04":-2,"A07":0,"A10":0},
      {"d":"2022-05-16","A04":-3,"A07":0,"A10":0},
      {"d":"2022-06-01","A04":3,"A07":0,"A10":0},
      {"d":"2022-06-16","A04":5,"A07":0,"A10":0},
      {"d":"2022-07-01","A04":4,"A07":0,"A10":0},
      {"d":"2022-07-16","A04":2,"A07":0,"A10":0},
      {"d":"2022-08-01","A04":-1,"A07":0,"A10":0},
      {"d":"2022-08-16","A04":-3,"A07":0,"A10":0},
      {"d":"2022-09-01","A04":-2,"A07":0,"A10":0},
      {"d":"2022-09-16","A04":0,"A07":0,"A10":0},
      {"d":"2022-10-01","A04":0,"A07":0,"A10":0},
      {"d":"2022-10-16","A04":0,"A07":0,"A10":0},
      {"d":"2022-11-01","A04":0,"A07":0,"A10":0},
      {"d":"2022-11-16","A04":0,"A07":0,"A10":0},
      {"d":"2022-12-01","A04":0,"A07":0,"A10":0},
      {"d":"2022-12-16","A04":0,"A07":0,"A10":0}
    ]
  },
  "layer": [
    {
      "data": {"values": [{}]},
      "mark": {"type": "rule", "color": "#c8c8c8", "strokeWidth": 3},
      "encoding": {"y": {"datum": -27.5}}
    },
    {
      "transform": [{"fold": ["A04"], "as": ["s", "v"]}],
      "mark": {"type": "point", "shape": "M-1,0L1,0M0,-1L0,1", "filled": false, "size": 105, "strokeWidth": 1.8, "opacity": 1},
      "encoding": {
        "x": {
          "field": "d",
          "type": "temporal",
          "scale": {"domain": [{"year": 1997, "month": 1, "date": 1}, {"year": 2023, "month": 1, "date": 1}]},
          "axis": {
            "title": null,
            "values": [
              {"year": 1997, "month": 1, "date": 1}, {"year": 1999, "month": 1, "date": 1},
              {"year": 2001, "month": 1, "date": 1}, {"year": 2003, "month": 1, "date": 1},
              {"year": 2005, "month": 1, "date": 1}, {"year": 2007, "month": 1, "date": 1},
              {"year": 2009, "month": 1, "date": 1}, {"year": 2011, "month": 1, "date": 1},
              {"year": 2013, "month": 1, "date": 1}, {"year": 2015, "month": 1, "date": 1},
              {"year": 2017, "month": 1, "date": 1}, {"year": 2019, "month": 1, "date": 1},
              {"year": 2021, "month": 1, "date": 1}
            ],
            "format": "%d/%m/%Y",
            "grid": true,
            "gridColor": "#d9d9d9",
            "gridWidth": 1.5,
            "domainColor": "#d9d9d9",
            "domainWidth": 3,
            "ticks": false,
            "tickSize": 0,
            "labelFont": "Lato",
            "labelFontSize": 20,
            "labelColor": "#595959",
            "labelPadding": 29,
            "labelFlush": false,
            "labelOverlap": false
          }
        },
        "y": {
          "field": "v",
          "type": "quantitative",
          "scale": {"domain": [-40, 60], "nice": false, "zero": false},
          "axis": {
            "title": null,
            "values": [-40, -30, -20, -10, 0, 10, 20, 30, 40, 50, 60],
            "labelExpr": "datum.value < 0 ? '- ' + abs(datum.value) + '%' : datum.value + '%'",
            "grid": true,
            "gridColor": "#d9d9d9",
            "gridWidth": 1.5,
            "domainColor": "#d9d9d9",
            "domainWidth": 2,
            "ticks": false,
            "tickSize": 0,
            "labelFont": "Lato",
            "labelFontSize": 20,
            "labelColor": "#595959",
            "labelPadding": 18
          }
        },
        "color": {
          "field": "s",
          "type": "nominal",
          "scale": {"domain": ["A04", "A07", "A10"], "range": ["#FFC000", "#0070C0", "#FF0000"]},
          "legend": {
            "title": null,
            "orient": "none",
            "legendX": 1751,
            "legendY": 110,
            "padding": 0,
            "symbolOffset": 0,
            "labelOffset": 25,
            "rowPadding": 37,
            "labelFont": "Lato",
            "labelFontSize": 27.5,
            "labelColor": "#595959",
            "labelLimit": 400,
            "symbolSize": 64,
            "symbolStrokeWidth": 2,
            "symbolType": "M-1,0L1,0M0,-1L0,1",
            "labelExpr": "'Rendement_' + datum.label"
          }
        }
      }
    },
    {
      "transform": [{"fold": ["A07"], "as": ["s", "v"]}],
      "mark": {"type": "point", "shape": "M-1,0L1,0M0,-1L0,1", "filled": false, "size": 115, "strokeWidth": 2.9, "opacity": 1},
      "encoding": {
        "x": {"field": "d", "type": "temporal"},
        "y": {"field": "v", "type": "quantitative"},
        "color": {"field": "s", "type": "nominal"}
      }
    },
    {
      "transform": [{"fold": ["A10"], "as": ["s", "v"]}],
      "mark": {"type": "point", "shape": "M-1,0L1,0M0,-1L0,1", "filled": false, "size": 115, "strokeWidth": 2.9, "opacity": 1},
      "encoding": {
        "x": {"field": "d", "type": "temporal"},
        "y": {"field": "v", "type": "quantitative"},
        "color": {"field": "s", "type": "nominal"}
      }
    },
    {
      "data": {"values": [{}]},
      "mark": {"type": "rule", "strokeWidth": 5, "color": "black"},
      "encoding": {
        "x": {"datum": {"year": 1997, "month": 1, "date": 1}, "type": "temporal"},
        "x2": {"datum": {"year": 2016, "month": 8, "date": 1}},
        "y": {"datum": 0},
        "strokeDash": {
          "datum": "0,0%",
          "type": "nominal",
          "scale": {"domain": ["0,0%"], "range": [[1, 0]]},
          "legend": {
            "title": null,
            "orient": "none",
            "legendX": 1744,
            "legendY": 290,
            "padding": 0,
            "symbolOffset": 0,
            "labelOffset": 2,
            "labelFont": "Lato",
            "labelFontSize": 27.5,
            "labelColor": "#595959",
            "symbolType": "stroke",
            "symbolSize": 2304,
            "symbolStrokeWidth": 6,
            "symbolStrokeColor": "black"
          }
        }
      }
    },
    {
      "data": {"values": [{}]},
      "mark": {"type": "rect", "color": "white"},
      "encoding": {
        "x": {"datum": {"year": 1998, "month": 8, "date": 4}, "type": "temporal"},
        "x2": {"datum": {"year": 2020, "month": 12, "date": 16}},
        "y": {"datum": 48.3},
        "y2": {"datum": 62}
      }
    },
    {
      "data": {"values": [{}]},
      "mark": {"type": "rect", "color": "white"},
      "encoding": {
        "x": {"datum": {"year": 2018, "month": 10, "date": 4}, "type": "temporal"},
        "x2": {"datum": {"year": 2023, "month": 1, "date": 1}},
        "y": {"datum": 23.1},
        "y2": {"datum": 50.4}
      }
    },
    {
      "data": {"values": [{}]},
      "mark": {"type": "rect", "color": "#7DC77D"},
      "encoding": {
        "x": {"datum": {"year": 1995, "month": 1, "date": 1}, "type": "temporal"},
        "x2": {"datum": {"year": 2025, "month": 1, "date": 1}},
        "y": {"datum": 65.25},
        "y2": {"datum": 75}
      }
    },
    {
      "data": {"values": [{}]},
      "mark": {"type": "rule", "color": "#d9d9d9", "strokeWidth": 3},
      "encoding": {
        "x": {"datum": {"year": 1995, "month": 1, "date": 1}, "type": "temporal"},
        "x2": {"datum": {"year": 2025, "month": 1, "date": 1}},
        "y": {"datum": 64.9}
      }
    },
    {
      "data": {"values": [{}]},
      "mark": {
        "type": "text",
        "text": "ADAM Informe. Evolution historique des performances en euros pour des détentions de 4 ans (A04) à 10 ans (A10) avec les revenus connus capitalisés",
        "font": "Lato",
        "fontSize": 31.4,
        "fontWeight": "bold",
        "color": "black",
        "align": "left",
        "baseline": "middle"
      },
      "encoding": {
        "x": {"datum": {"year": 1996, "month": 1, "date": 21}, "type": "temporal"},
        "y": {"datum": 68.04}
      }
    },
    {
      "data": {"values": [{}]},
      "mark": {
        "type": "text",
        "text": [
          "Performance par rapport à l'indice EU STOXX 600 GROSS TR \u00a0du placement iShares MSCI World UCITS ETF Dist en fonction de la date de début pour",
          "des durées",
          "entre 4 (A04) et 10 ans (A10). Cotations entre janv. 1997 et juil. 2026. Revenus CAPITALISES depuis f"
        ],
        "font": "Lato",
        "fontSize": 26.5,
        "fontWeight": "bold",
        "color": "#595959",
        "align": "center",
        "baseline": "middle",
        "lineHeight": 42
      },
      "encoding": {
        "x": {"datum": {"year": 2009, "month": 10, "date": 11}, "type": "temporal"},
        "y": {"datum": 60}
      }
    }
  ]
}
